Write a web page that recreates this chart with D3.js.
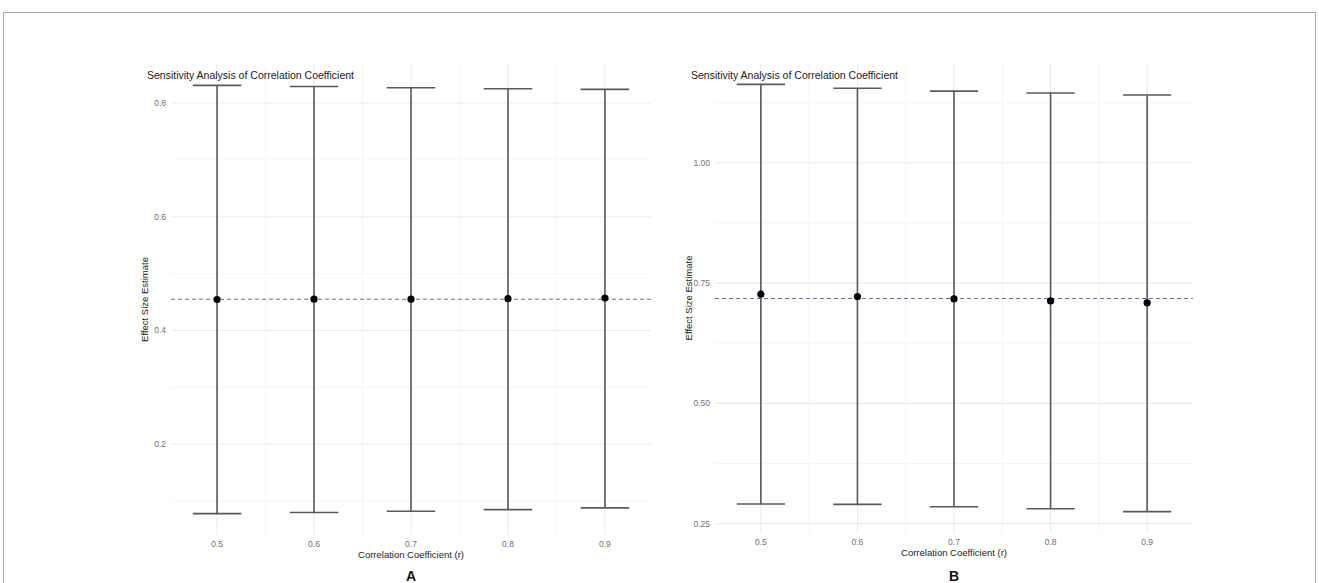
<!DOCTYPE html>
<html>
<head>
<meta charset="utf-8">
<script src="https://cdn.jsdelivr.net/npm/d3@7"></script>
<style>
  body { margin: 0; background: #fff; }
  svg { display: block; font-family: "Liberation Sans", Arial, sans-serif; }
</style>
</head>
<body>
<svg id="chart" width="1319" height="583"></svg>
<script>
// Data
const rValues = [0.5, 0.6, 0.7, 0.8, 0.9];

// Panel A
const estA = [0.4545, 0.455, 0.455, 0.456, 0.457];
const lowA = [0.078, 0.080, 0.082, 0.085, 0.088];
const highA = [0.831, 0.829, 0.827, 0.825, 0.824];
const refA = 0.455;
const yTicksA = [0.2, 0.4, 0.6, 0.8];
const yMinorA = [0.1, 0.3, 0.5, 0.7];

// Panel B
const estB = [0.727, 0.722, 0.717, 0.713, 0.709];
const lowB = [0.291, 0.290, 0.285, 0.281, 0.275];
const highB = [1.163, 1.155, 1.149, 1.145, 1.141];
const refB = 0.718;
const yTicksB = [0.25, 0.50, 0.75, 1.00];
const yMinorB = [0.375, 0.625, 0.875, 1.125];

const xMinor = [0.55, 0.65, 0.75, 0.85];
const capHalf = 0.025;

const svg = d3.select('#chart');

// outer frame
svg.append('rect')
    .attr('x', 3.5).attr('y', 12.5)
    .attr('width', 1312).attr('height', 600)
    .attr('fill', 'none')
    .attr('stroke', '#a9a9a9')
    .attr('stroke-width', 1);

function expand(lo, hi) {
    const pad = (hi - lo) * 0.05;
    return [lo - pad, hi + pad];
}

function drawPanel(opts) {
    const { left, right, top, bottom, est, low, high, ref, yTicks, yMinor, fmt, letter } = opts;
    const g = svg.append('g');

    const x = d3.scaleLinear()
        .domain(expand(d3.min(rValues) - capHalf, d3.max(rValues) + capHalf))
        .range([left, right]);
    const y = d3.scaleLinear()
        .domain(expand(d3.min(low), d3.max(high)))
        .range([bottom, top]);

    // minor grid
    g.selectAll('.ymin').data(yMinor).join('line')
        .attr('x1', left).attr('x2', right)
        .attr('y1', d => y(d)).attr('y2', d => y(d))
        .attr('stroke', '#f3f3f3').attr('stroke-width', 0.8);
    g.selectAll('.xmin').data(xMinor).join('line')
        .attr('y1', top).attr('y2', bottom)
        .attr('x1', d => x(d)).attr('x2', d => x(d))
        .attr('stroke', '#f3f3f3').attr('stroke-width', 0.8);

    // major grid
    g.selectAll('.ymaj').data(yTicks).join('line')
        .attr('x1', left).attr('x2', right)
        .attr('y1', d => y(d)).attr('y2', d => y(d))
        .attr('stroke', '#ebebeb').attr('stroke-width', 1.1);
    g.selectAll('.xmaj').data(rValues).join('line')
        .attr('y1', top).attr('y2', bottom)
        .attr('x1', d => x(d)).attr('x2', d => x(d))
        .attr('stroke', '#ebebeb').attr('stroke-width', 1.1);

    // tick labels
    g.selectAll('.ytl').data(yTicks).join('text')
        .attr('x', left - 5).attr('y', d => y(d))
        .attr('dy', '0.35em')
        .attr('text-anchor', 'end')
        .attr('font-size', 8.5)
        .attr('fill', '#707070')
        .text(fmt);
    g.selectAll('.xtl').data(rValues).join('text')
        .attr('x', d => x(d)).attr('y', bottom + 9)
        .attr('dy', '0.35em')
        .attr('text-anchor', 'middle')
        .attr('font-size', 8.5)
        .attr('fill', '#707070')
        .text(d3.format('.1f'));

    // reference line
    g.append('line')
        .attr('x1', left).attr('x2', right)
        .attr('y1', y(ref)).attr('y2', y(ref))
        .attr('stroke', '#5e7399')
        .attr('stroke-width', 1.1)
        .attr('stroke-dasharray', '4,3');

    // error bars
    const rows = rValues.map((r, i) => ({ r, est: est[i], low: low[i], high: high[i] }));
    const bars = g.selectAll('.eb').data(rows).join('g');
    bars.append('line')
        .attr('x1', d => x(d.r)).attr('x2', d => x(d.r))
        .attr('y1', d => y(d.low)).attr('y2', d => y(d.high))
        .attr('stroke', '#595959').attr('stroke-width', 1.6);
    bars.append('line')
        .attr('x1', d => x(d.r - capHalf)).attr('x2', d => x(d.r + capHalf))
        .attr('y1', d => y(d.high)).attr('y2', d => y(d.high))
        .attr('stroke', '#595959').attr('stroke-width', 1.6);
    bars.append('line')
        .attr('x1', d => x(d.r - capHalf)).attr('x2', d => x(d.r + capHalf))
        .attr('y1', d => y(d.low)).attr('y2', d => y(d.low))
        .attr('stroke', '#595959').attr('stroke-width', 1.6);
    bars.append('circle')
        .attr('cx', d => x(d.r)).attr('cy', d => y(d.est))
        .attr('r', 3.6)
        .attr('fill', '#000');

    // titles
    g.append('text')
        .attr('x', left - 24).attr('y', 79)
        .attr('font-size', 10.5)
        .attr('fill', '#222')
        .text('Sensitivity Analysis of Correlation Coefficient');
    g.append('text')
        .attr('transform', `translate(${left - 26},${(top + bottom) / 2}) rotate(-90)`)
        .attr('text-anchor', 'middle')
        .attr('dy', '0.35em')
        .attr('font-size', 9.5)
        .attr('fill', '#222')
        .text('Effect Size Estimate');
    g.append('text')
        .attr('x', (left + right) / 2).attr('y', bottom + 20)
        .attr('dy', '0.35em')
        .attr('text-anchor', 'middle')
        .attr('font-size', 9.5)
        .attr('fill', '#222')
        .text('Correlation Coefficient (r)');
    g.append('text')
        .attr('x', (left + right) / 2).attr('y', 576)
        .attr('dy', '0.35em')
        .attr('text-anchor', 'middle')
        .attr('font-size', 14)
        .attr('font-weight', 'bold')
        .attr('fill', '#111')
        .text(letter);
}

drawPanel({
    left: 171, right: 651, top: 64, bottom: 535,
    est: estA, low: lowA, high: highA, ref: refA,
    yTicks: yTicksA, yMinor: yMinorA, fmt: d3.format('.1f'), letter: 'A'
});

drawPanel({
    left: 715, right: 1193, top: 63, bottom: 533,
    est: estB, low: lowB, high: highB, ref: refB,
    yTicks: yTicksB, yMinor: yMinorB, fmt: d3.format('.2f'), letter: 'B'
});
</script>
</body>
</html>
